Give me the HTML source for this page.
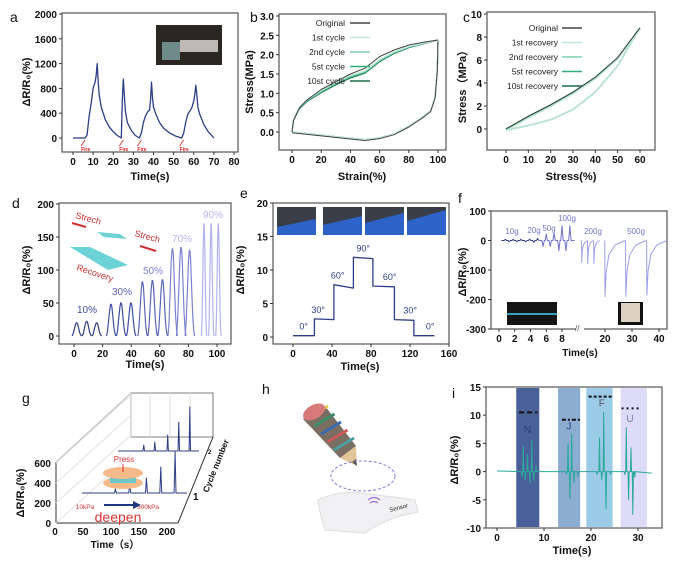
<!DOCTYPE html>
<html><head><meta charset="utf-8"><style>
body{margin:0;background:#fff}
svg{display:block;font-family:"Liberation Sans",Arial,sans-serif}
.t{font-size:10px;font-weight:bold;fill:#111}
.at{font-size:11px;font-weight:bold;fill:#111}
.pl{font-size:14px;fill:#111}
.lg{font-size:8.5px;fill:#222}
</style></head><body>
<svg id="s" width="678" height="566" viewBox="0 0 678 566"></svg>
<script>
// ---------- data ----------
const aTime=[0,6,7,8,9,10,11,11.5,12,12.5,13,14,16,18,20,22,24,24.5,25,25.5,26,27,29,31,33,34,35,36,37,38,38.5,39,39.5,40,41,43,45,48,51,54,55,56,57,58,59,60,60.5,61,61.5,62,63,65,67,70];
const aVal=[0,0,50,350,550,800,900,1000,1200,900,700,500,300,180,100,40,0,600,950,700,450,250,120,40,0,80,250,350,420,450,600,900,650,500,400,250,160,80,30,0,80,250,380,430,480,600,700,850,700,500,380,220,110,0];
const aTicksX=[0,10,20,30,40,50,60,70,80];
const aTicksY=[0,400,800,1200,1600,2000];
const bLoadX=[0,1,5,10,20,30,40,50,60,70,80,90,100];
const bLoadY=[0,0.3,0.6,0.78,1.02,1.22,1.4,1.52,1.82,2.03,2.18,2.28,2.38];
const bOrigY=[0,0.3,0.62,0.82,1.1,1.3,1.5,1.65,1.95,2.12,2.25,2.32,2.38];
const bUnX=[100,99.5,98,95,90,80,70,60,50,40,20,0];
const bUnY=[2.36,1.6,0.9,0.55,0.4,0.15,-0.05,-0.15,-0.2,-0.16,-0.08,0];
const bLegend=["Original","1st  cycle","2nd cycle","5st  cycle","10st cycle"];
const cLoadX=[0,10,20,30,40,50,60];
const cLoadY=[0,1.1,2.1,3.2,4.5,6.2,8.8];
const cUnY=[-0.1,0.3,0.8,1.7,3.2,5.5,8.8];
const cLegend=["Original","1st  recovery","2nd recovery","5st  recovery","10st recovery"];
const dPeakT=[2,9,16,26,33,40,48,55,62,69,75,81,91,96,101];
const dPeakV=[20,22,20,48,50,50,82,84,85,132,134,130,170,170,170];
const dLabels=["10%","30%","50%","70%","90%"];
const eStepT=[0,22,42,62,82,104,124,145];
const eStepV=[0.2,2.7,7.8,11.9,7.6,2.6,0.2];
const eStepEnd=[0.2,2.6,7.3,11.7,7.5,2.5,0.2];
const eLabels=["0°","30°","60°","90°","60°","30°","0°"];
const fSmallT=[0.8,1.3,1.8,2.3,2.8,3.4,3.9,4.4,4.9,5.6,6.0,6.5,7.0,7.6,8.0,8.5,9.0];
const fSmallV=[4,-4,4,-4,4,-5,5,-6,7,-20,22,-20,25,-35,50,-35,50];
const fBigT=[11.4,13.6,15.9,20,27.7,35.5];
const fBigV=[-75,-78,-78,-190,-190,-185];
const iBands=[[4.1,9.0,"#4a6098"],[13.0,17.7,"#8dadd0"],[19.0,24.6,"#9ccbe8"],[26.3,31.9,"#dedbf8"]];
const iSpikeT=[5.3,5.6,6.0,6.5,7.0,7.4,7.8,8.3,14.8,15.1,15.5,15.9,16.4,17.2,21.3,21.8,22.3,22.7,23.2,24.2,27.2,27.5,28,28.5,28.9,29.3];
const iSpikeV=[-1,4.6,-1.5,3,-2,5.6,-1.5,1,-0.5,5,-4.8,6.7,-2,-1,-0.5,6,-1.5,10.5,-6.6,-0.5,-0.5,7.8,-5,4.2,-7.6,-1];
const gTime=[70,100,135,165,195];
const gVal1=[40,100,150,260,410];
const gVal2=[60,90,160,290,440];
// ---------- helpers ----------
const S=document.getElementById('s');const NS="http://www.w3.org/2000/svg";
function el(tag,at,txt){const e=document.createElementNS(NS,tag);for(const k in at)e.setAttribute(k,at[k]);if(txt!=null)e.textContent=txt;S.appendChild(e);return e;}
function lin(d0,d1,p0,p1){return v=>p0+(v-d0)*(p1-p0)/(d1-d0);}
function frame(x0,y0,x1,y1,nm){const r=el('rect',{x:x0,y:y0,width:x1-x0,height:y1-y0,fill:'none',stroke:'#555','stroke-width':1.2});}
function xt(vals,X,y,nm,lab){vals.forEach((v,i)=>{el('line',{x1:X(v),x2:X(v),y1:y,y2:y+3,stroke:'#333'});const t=el('text',{x:X(v),y:y+13,'text-anchor':'middle',class:'t'},lab?lab[i]:v);});}
function yt(vals,Y,x,nm,lab){vals.forEach((v,i)=>{el('line',{x1:x-3,x2:x,y1:Y(v),y2:Y(v),stroke:'#333'});const t=el('text',{x:x-5,y:Y(v)+4,'text-anchor':'end',class:'t'},lab?lab[i]:v);});}
function txt(x,y,s,cls,nm,extra){const t=el('text',Object.assign({x:x,y:y,class:cls},extra||{}),s);return t;}
function ytitle(x,y,s,nm){return txt(x,y,s,'at',nm,{'text-anchor':'middle',transform:`rotate(-90 ${x} ${y})`});}
function poly(xs,ys,X,Y,col,w,nm){const p=xs.map((v,i)=>X(v).toFixed(1)+','+Y(ys[i]).toFixed(1)).join(' ');const e=el('polyline',{points:p,fill:'none',stroke:col,'stroke-width':w||1.2,'stroke-linejoin':'round'});return e;}
// ---------- panel a ----------
{const X=lin(0,80,73,234),Y=lin(0,2000,138,14);
frame(62,13,238,152,'panel-a');xt(aTicksX,X,152,'a');yt(aTicksY,Y,62,'a');
poly(aTime,aVal,X,Y,'#2b3f86',1.3,'a-response-line');
const ph=el('rect',{x:156,y:25,width:66,height:40,fill:'#2a2622'});
el('rect',{x:180,y:40,width:38,height:12,fill:'#bdbab3'});el('rect',{x:162,y:42,width:18,height:18,fill:'#6f8a8a'});
[5,24,33,54].forEach(t=>{txt(X(t)-2,Y(0)+13,'Fire','t','a-fire-mark',{style:'font-size:5px;fill:#d22'});el('line',{x1:X(t)-2,y1:Y(0)+8,x2:X(t)+2,y2:Y(0)+2,stroke:'#d22','stroke-width':0.8});});
txt(10,22,'a','pl','panel-a-letter');ytitle(30,82,'ΔR/R₀(%)','a-y-title');txt(150,180,'Time(s)','at','a-x-title',{'text-anchor':'middle'});}
// ---------- panel b ----------
{const X=lin(0,100,292,438),Y=lin(0,3,132,16);
frame(279,14,446,150,'panel-b');xt([0,20,40,60,80,100],X,150,'b');yt([0,0.5,1,1.5,2,2.5,3],Y,279,'b',["0.0","0.5","1.0","1.5","2.0","2.5","3.0"]);
const cols=['#444','#bfe8d6','#7fd0ae','#2fae7a','#1d6b4a'];
for(let k=4;k>=1;k--){poly(bLoadX,bLoadY.map((v,i)=>v+(4-k)*0.02*Math.sin(i/12*Math.PI)),X,Y,cols[k],1.2,'b-load-'+k);poly(bUnX,bUnY,X,Y,cols[k],1.2,'b-unload-'+k);}
poly(bLoadX,bOrigY,X,Y,cols[0],1,'b-load-original');poly(bUnX,bUnY.map(v=>v-0.02),X,Y,cols[0],1,'b-unload-original');
bLegend.forEach((s,i)=>{txt(345,26+i*14.5,s,'lg','b-legend-'+i,{'text-anchor':'end'});const l=el('line',{x1:350,x2:370,y1:23+i*14.5,y2:23+i*14.5,stroke:cols[i],'stroke-width':1.5});});
txt(250,22,'b','pl','panel-b-letter');ytitle(253,82,'Stress(MPa)','b-y-title');txt(362,180,'Strain(%)','at','b-x-title',{'text-anchor':'middle'});}
// ---------- panel c ----------
{const X=lin(0,60,506,640),Yc=lin(0,10,129,14);
frame(487,12,655,150,'panel-c');xt([0,10,20,30,40,50,60],X,150,'c');yt([0,2,4,6,8,10],Yc,487,'c');
const cols=['#444','#bfe8d6','#7fd0ae','#2fae7a','#1d6b4a'];
for(let k=4;k>=1;k--){poly(cLoadX,cLoadY.map(v=>v-(4-k)*0.05),X,Yc,cols[k],1.3,'c-load-'+k);poly(cLoadX,cUnY,X,Yc,cols[k],1.3,'c-unload-'+k);}
poly(cLoadX,cLoadY,X,Yc,cols[0],0.9,'c-load-original');
cLegend.forEach((s,i)=>{txt(558,31+i*14.5,s,'lg','c-legend-'+i,{'text-anchor':'end'});const l=el('line',{x1:562,x2:582,y1:28+i*14.5,y2:28+i*14.5,stroke:cols[i],'stroke-width':1.5});});
txt(463,22,'c','pl','panel-c-letter');ytitle(466,84,'Stress（MPa）','c-y-title');txt(571,180,'Stress(%)','at','c-x-title',{'text-anchor':'middle'});}
// ---------- panel d ----------
{const X=lin(0,100,74,217),Y=lin(0,200,336,204);
frame(59,203,231,344,'panel-d');xt([0,20,40,60,80,100],X,344,'d');yt([0,50,100,150,200],Y,59,'d');
const gc=['#2b3f86','#3e4fa0','#5866b8','#7b82cf','#b5b3ec'];
const sh=[-3.3,-2.6,-1.8,-1.0,-0.4,0,0.5,1.2,2.0,2.8,3.4],sv=[0,0.15,0.5,0.85,1,1,0.92,0.6,0.25,0.05,0];
dPeakT.forEach((t,i)=>{const g=Math.floor(i/3);const v=dPeakV[i];const w=g==4?0.55:1;
poly(sh.map(d=>t+d*w),sv.map(s=>s*v),X,Y,gc[g],1.2,'d-peak-'+i);});
const lp=[[87,313],[122,295],[153,274],[182,242],[213,218]];
dLabels.forEach((s,g)=>{txt(lp[g][0],lp[g][1],s,'lg','d-strain-label',{'text-anchor':'middle',style:'font-size:10px;fill:'+gc[Math.min(g+1,4)]});});
txt(75,218,'Strech','lg','d-strech-1',{style:'font-size:9px;fill:#c33',transform:'rotate(15 75 218)'});
el('line',{x1:86,y1:227,x2:72,y2:223,stroke:'#c33','stroke-width':2});
txt(134,236,'Strech','lg','d-strech-2',{style:'font-size:9px;fill:#c33',transform:'rotate(15 134 236)'});
el('line',{x1:140,y1:246,x2:156,y2:251,stroke:'#c33','stroke-width':2});
txt(76,270,'Recovery','lg','d-recovery',{style:'font-size:9px;fill:#c33',transform:'rotate(18 76 270)'});
el('polygon',{points:'97,232 120,234 127,239 104,237',fill:'#6cd2d6'});el('polygon',{points:'70,247 90,247 128,265 108,270',fill:'#6cd2d6'});
txt(12,208,'d','pl','panel-d-letter');ytitle(30,270,'ΔR/R₀(%)','d-y-title');txt(145,368,'Time(s)','at','d-x-title',{'text-anchor':'middle'});}
// ---------- panel e ----------
{const X=lin(0,160,293,449),Y=lin(0,20,337,203);
frame(273,203,449,344,'panel-e');xt([0,40,80,120,160],X,344,'e');yt([0,5,10,15,20],Y,273,'e');
const xs=[],ys=[];for(let i=0;i<eStepV.length;i++){xs.push(eStepT[i],eStepT[i+1]);ys.push(eStepV[i],eStepEnd[i]);}
poly(xs,ys,X,Y,'#2b3f86',1.3,'e-step-line');
eLabels.forEach((s,i)=>{const xm=(eStepT[i]+eStepT[i+1])/2;txt(X(xm)-(i==1||i==2?6:i>3?-6:0),Y(eStepV[i])-6,s,'lg','e-angle-label',{'text-anchor':'middle',style:'font-size:9px;fill:#2b3f86'});});
[277,323,365,407].forEach((x,i)=>{const r=el('rect',{x:x,y:207,width:39,height:28,fill:'#3a3e48'});el('polygon',{points:`${x},${227-i*2} ${x+39},${219-i*3} ${x+39},235 ${x},235`,fill:'#2d63c8'});});
txt(240,198,'e','pl','panel-e-letter');ytitle(244,270,'ΔR/R₀(%)','e-y-title');txt(360,370,'Time(s)','at','e-x-title',{'text-anchor':'middle'});}
// ---------- panel f ----------
{const X1=lin(0,8,499,562),Yf=lin(100,-300,211,329);const X3=lin(20,40,605,659);
frame(491,211,667,329,'panel-f');
xt([0,2,4,6,8],X1,329,'f');xt([20,30,40],X3,329,'f');yt([100,0,-100,-200,-300],Yf,491,'f');
el('rect',{x:576,y:326,width:8,height:6,fill:'#fff'});txt(575,331,'//','lg','f-axis-break',{style:'font-size:8px;fill:#555'});
const sx=[0.3],sy=[0];fSmallT.forEach((t,i)=>{sx.push(t-0.15,t,t+0.15);sy.push(0,fSmallV[i],0);});sx.push(9.6);sy.push(0);
poly(sx.slice(0,28),sy.slice(0,28),X1,Yf,'#2b3f86',1,'f-small-signal');
poly(sx.slice(27),sy.slice(27),X1,Yf,'#6e72c8',1,'f-small-signal-100g');
fBigT.forEach((t,i)=>{const v=fBigV[i];const d=i<3?2.2:7.5;poly([t-0.1,t,t+d*0.06,t+d*0.2,t+d*0.5,t+d],[0,v,v*0.55,v*0.25,v*0.08,0],X3,Yf,'#9ca0ea',1,'f-big-'+i);});
[['10g',512,234],['20g',534,233],['50g',549,231],['100g',567,221],['200g',593,234],['500g',636,234]].forEach(a=>txt(a[1],a[2],a[0],'lg','f-weight-label',{'text-anchor':'middle',style:'font-size:8px;fill:#7075c8'}));
el('rect',{x:507,y:302,width:50,height:23,fill:'#141414'});el('rect',{x:507,y:313,width:50,height:2,fill:'#3aa0c0'});el('rect',{x:618,y:302,width:25,height:23,fill:'#111'});el('rect',{x:621,y:303,width:19,height:19,fill:'#ddd2c2'});
txt(458,203,'f','pl','panel-f-letter');ytitle(466,272,'ΔR/R₀(%)','f-y-title');txt(580,356,'Time(s)','at','f-x-title',{'text-anchor':'middle',style:'font-size:10px'});}
// ---------- panel g (3D) ----------
{txt(22,403,'g','pl','panel-g-letter');
const g='#bbb';
el('polygon',{points:'131,393 213,393 213,437 131,437',fill:'none',stroke:'#555','stroke-width':0.8});
el('polyline',{points:'56,462 131,393 131,437',fill:'none',stroke:g});
el('line',{x1:56,y1:523,x2:178,y2:523,stroke:'#333'});el('line',{x1:56,y1:523,x2:56,y2:462,stroke:'#333'});
el('line',{x1:178,y1:523,x2:213,y2:437,stroke:'#333'});
[150,170,190].forEach(x=>el('line',{x1:x,y1:393,x2:x,y2:437,stroke:'#ddd'}));
const Ty=lin(0,600,523,463);
[0,200,400,600].forEach(v=>{txt(51,Ty(v)+4,v,'t','g-y-tick',{'text-anchor':'end'});el('line',{x1:56,y1:Ty(v),x2:131,y2:Ty(v)-68,stroke:'#e2e2e2'});});
const Tx=lin(0,200,55,167);
[0,50,100,150,200].forEach(v=>txt(Tx(v),535,v,'t','g-x-tick',{'text-anchor':'middle'}));
const H=lin(0,600,0,60);
const tr=(X,base,vals,nm)=>{const xs=[0],ys=[base];gTime.forEach((t,i)=>{xs.push(t-2,t,t+2);ys.push(base,base-H(vals[i]),base);});xs.push(220);ys.push(base);poly(xs,ys,X,v=>v,'#2b3f86',1,nm);};
tr(lin(0,220,82,187),493,gVal1,'g-trace-1');tr(lin(0,220,118,199),451,gVal2,'g-trace-2');
txt(193,500,'1','t','g-cycle-1');txt(208,454,'2','t','g-cycle-2',{style:'font-size:6px'});
txt(208,493,'Cycle number','t','g-z-title',{style:'font-size:8.5px',transform:'rotate(-68 208 493)'});
ytitle(24,493,'ΔR/R₀(%)','g-y-title');txt(115,548,'Time（s）','at','g-x-title',{'text-anchor':'middle',style:'font-size:10px'});
el('ellipse',{cx:123,cy:483,rx:20,ry:6,fill:'#f6b98a'});el('rect',{x:110,y:474,width:26,height:9,fill:'#6cc9c8'});el('ellipse',{cx:123,cy:473,rx:20,ry:6,fill:'#f6b98a'});
txt(124,462,'Press','lg','g-press',{'text-anchor':'middle',style:'font-size:8px;fill:#d33'});
el('line',{x1:123,y1:464,x2:123,y2:472,stroke:'#d33'});
txt(85,509,'10kPa','lg','g-10kpa',{'text-anchor':'middle',style:'font-size:6.5px;fill:#d33'});txt(148,509,'500kPa','lg','g-500kpa',{'text-anchor':'middle',style:'font-size:6.5px;fill:#d33'});
el('line',{x1:104,y1:505,x2:134,y2:505,stroke:'#1d3a80','stroke-width':2});el('polygon',{points:'133,501 141,505 133,509',fill:'#1d3a80'});
txt(118,522,'deepen','lg','g-deepen',{'text-anchor':'middle',style:'font-size:14px;fill:#d33'});}
// ---------- panel h ----------
{txt(262,394,'h','pl','panel-h-letter');
el('polygon',{points:'303,419 325,406 356,446 340,458',fill:'#7a6e62'});
for(let i=0;i<5;i++){const x=308+i*6.5,y=418+i*8;el('line',{x1:x,y1:y,x2:x+20,y2:y-12,stroke:['#e5c84a','#3e8e6a','#3c6ab0','#c85a5a','#4aa0a0'][i],'stroke-width':3});}
el('ellipse',{cx:314,cy:412,rx:12,ry:7,fill:'#d87a7a',transform:'rotate(-30 314 412)'});
el('polygon',{points:'340,458 356,446 357,466',fill:'#e3c59a'});el('polygon',{points:'352,462 356,459 357,466',fill:'#555'});
const e=el('ellipse',{cx:363,cy:476,rx:32,ry:15,fill:'none',stroke:'#8a78d6','stroke-dasharray':'3,2'});
el('path',{d:'M318,500 Q340,490 360,493 Q395,497 415,500 L418,512 Q385,518 365,533 L325,530 Q320,515 318,500 Z',fill:'#f1f1f3',stroke:'#ddd'});
el('path',{d:'M368,500 q6,-5 12,0 M370,503 q4,-3 8,0',fill:'none',stroke:'#9b6fd6','stroke-width':1.3});
txt(390,512,'Sensor','lg','h-sensor-label',{style:'font-size:6px',transform:'rotate(-15 390 512)'});}
// ---------- panel i ----------
{const X=lin(0,30,497,638),Y=lin(15,-10,387,528);
frame(486,387,662,528,'panel-i');
iBands.forEach((b,k)=>{const r=el('rect',{x:X(b[0]),y:388,width:X(b[1])-X(b[0]),height:139,fill:b[2]});});
xt([0,10,20,30],X,528,'i');yt([15,10,5,0,-5,-10],Y,486,'i');
const all=[[0,0.1],[33,-0.3]];
iSpikeT.forEach((t,i)=>all.push([t-0.12,0],[t,iSpikeV[i]],[t+0.12,0]));all.sort((a,b)=>a[0]-b[0]);
poly(all.map(a=>a[0]),all.map(a=>a[1]),X,Y,'#2aa89a',1,'i-signal');
[['N',6.5,6.8,'#2b3f86'],['J',15.3,7.5,'#2b3f86'],['F',22.3,11.5,'#555'],['U',28.3,8.8,'#7a78b0']].forEach(a=>txt(X(a[1]),Y(a[2]),a[0],'lg','i-letter',{'text-anchor':'middle',style:'font-size:10px;fill:'+a[3]}));
[[4.7,8.6,10.5,'5,3'],[13.8,17.8,9.2,'4,2,2,2'],[19.5,24.5,13.3,'3,2'],[26.5,30.6,11.2,'2,3']].forEach(a=>el('line',{x1:X(a[0]),x2:X(a[1]),y1:Y(a[2]),y2:Y(a[2]),stroke:'#111','stroke-width':2,'stroke-dasharray':a[3]}));
txt(452,398,'i','pl','panel-i-letter');ytitle(458,460,'ΔR/R₀(%)','i-y-title');txt(572,554,'Time(s)','at','i-x-title',{'text-anchor':'middle'});}
</script>
</body></html>
